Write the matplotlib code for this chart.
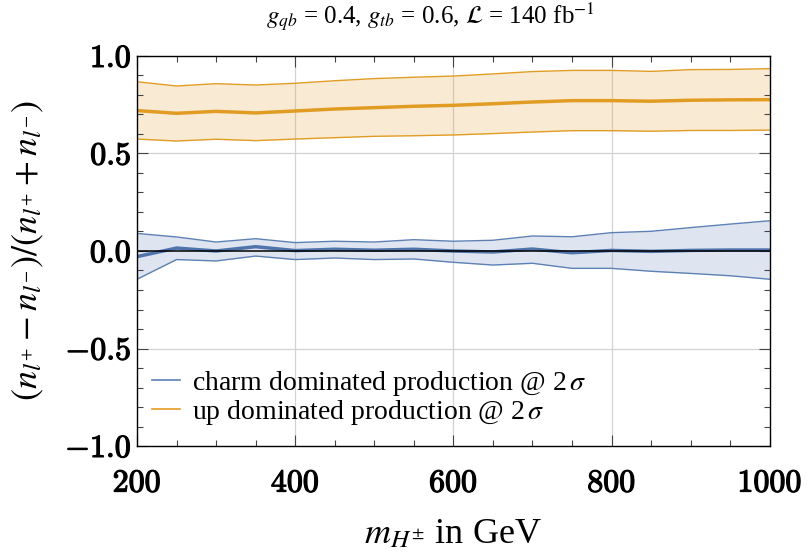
import matplotlib
matplotlib.use("Agg")
import matplotlib.pyplot as plt
import matplotlib.patheffects as pe
from matplotlib.ticker import MultipleLocator
from matplotlib.font_manager import FontProperties

plt.rcParams['font.family'] = ['Liberation Serif', 'DejaVu Serif']
plt.rcParams['mathtext.fontset'] = 'cm'

# data
mass = [200, 250, 300, 350, 400, 450, 500, 550, 600, 650, 700, 750, 800, 850, 900, 950, 1000]

charm_mid = [-0.029, 0.015, 0.0, 0.022, 0.002, 0.009, 0.004, 0.009, 0.0, -0.005, 0.010, -0.009, 0.003, -0.002, 0.003, 0.005, 0.005]
charm_hi = [0.090, 0.072, 0.046, 0.063, 0.043, 0.050, 0.046, 0.058, 0.050, 0.055, 0.077, 0.073, 0.094, 0.101, 0.120, 0.138, 0.155]
charm_lo = [-0.145, -0.044, -0.051, -0.026, -0.044, -0.036, -0.044, -0.041, -0.058, -0.072, -0.063, -0.089, -0.089, -0.104, -0.115, -0.127, -0.145]

up_mid = [0.720, 0.706, 0.716, 0.708, 0.718, 0.728, 0.735, 0.742, 0.747, 0.755, 0.764, 0.771, 0.771, 0.768, 0.773, 0.775, 0.776]
up_hi = [0.868, 0.846, 0.858, 0.851, 0.860, 0.873, 0.884, 0.891, 0.897, 0.908, 0.920, 0.926, 0.926, 0.921, 0.930, 0.931, 0.935]
up_lo = [0.574, 0.564, 0.573, 0.566, 0.574, 0.581, 0.588, 0.591, 0.595, 0.602, 0.610, 0.617, 0.617, 0.614, 0.618, 0.618, 0.620]

xticks = [200, 400, 600, 800, 1000]
yticks = [-1.0, -0.5, 0.0, 0.5, 1.0]

blue = '#5e81b5'
orange = '#e19c24'

fig = plt.figure(figsize=(8.12, 5.52), dpi=100)
ax = fig.add_axes([0.1687, 0.192, 0.7793, 0.7066])

# bands
ax.fill_between(mass, charm_lo, charm_hi, color=blue, alpha=0.2, lw=0)
ax.plot(mass, charm_hi, color=blue, lw=1)
ax.plot(mass, charm_lo, color=blue, lw=1)
ax.plot(mass, charm_mid, color='#4f73ab', lw=2.5)

ax.fill_between(mass, up_lo, up_hi, color=orange, alpha=0.2, lw=0)
ax.plot(mass, up_hi, color=orange, lw=1)
ax.plot(mass, up_lo, color=orange, lw=1)
ax.plot(mass, up_mid, color=orange, lw=2.5)

# zero axis
ax.axhline(0, color='black', lw=1.1)

ax.set_xlim(200, 1000)
ax.set_ylim(-1, 1)

for x in [400, 600, 800]:
    ax.axvline(x, color='#d3d3d3', lw=0.9, zorder=0)
for y in [-0.5, 0.5]:
    ax.axhline(y, color='#d3d3d3', lw=0.9, zorder=0)

ax.set_xticks(xticks, [r'$\mathbf{%d}$' % v for v in xticks])
ax.set_yticks(yticks, [r'$\mathbf{%.1f}$' % v for v in yticks])
ax.xaxis.set_minor_locator(MultipleLocator(50))
ax.yaxis.set_minor_locator(MultipleLocator(0.1))
ax.tick_params(which='both', direction='in', top=True, right=True, labelsize=23, width=0.8, color='#444444')
ax.tick_params(which='major', length=8)
ax.tick_params(which='minor', length=4)
ax.tick_params(axis='x', which='major', pad=17)
ax.tick_params(axis='y', which='major', pad=4)
for lbl in ax.get_xticklabels() + ax.get_yticklabels():
    lbl.set_path_effects([pe.withStroke(linewidth=0.9, foreground='black')])

for s in ax.spines.values():
    s.set_linewidth(1.0)

ax.set_xlabel(r'$m_{H^{\pm}}$ in GeV', fontsize=26, labelpad=14, math_fontfamily='stix')
ax.set_ylabel(r'$(n_{l^{+}}-n_{l^{-}})/(n_{l^{+}}+n_{l^{-}})$', fontsize=26, labelpad=14,
              math_fontfamily='stix')

fig.text(0.53, 0.969, r'$g_{qb}$ = 0.4, $g_{tb}$ = 0.6, $\mathcal{L}$ = 140 fb$^{-1}$',
         ha='center', va='center', fontsize=18, math_fontfamily='stix')

ax.plot([], [], color=blue, lw=1.2, label=r'charm dominated production @ 2$\,\sigma$')
ax.plot([], [], color=orange, lw=1.2, label=r'up dominated production @ 2$\,\sigma$')
handles, labels = ax.get_legend_handles_labels()
ax.legend(handles[-2:], labels[-2:], loc='lower left', bbox_to_anchor=(0.024, 0.05),
          frameon=False, prop=FontProperties(size=20, math_fontfamily='stix'),
          handlelength=1.0, handletextpad=0.45, labelspacing=0.0,
          borderaxespad=0, borderpad=0)

fig.savefig('out.png', dpi=100)
